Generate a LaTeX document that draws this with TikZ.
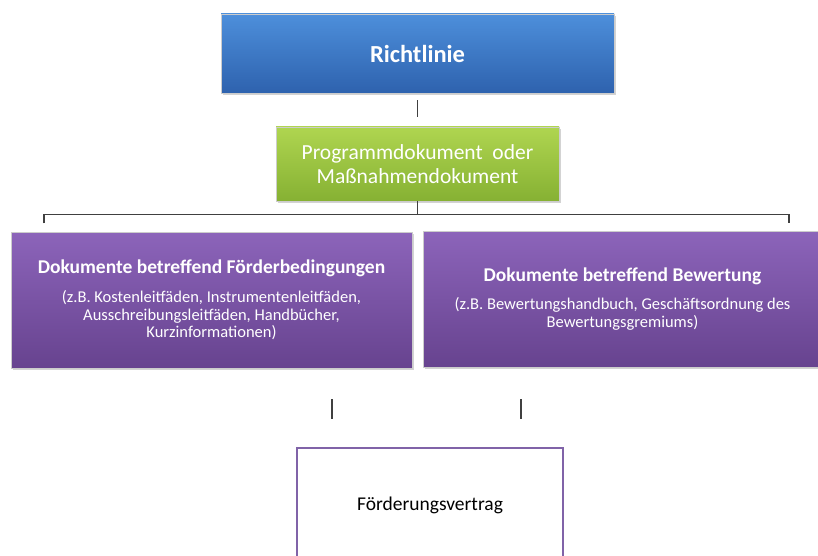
\documentclass[tikz,border=0pt]{standalone}
\usepackage{fontspec}
\setmainfont{Carlito}
\usetikzlibrary{calc,shadows}

\definecolor{linegray}{HTML}{404040}
\definecolor{rltop}{HTML}{4D8FDB}
\definecolor{rlbot}{HTML}{2E62AE}
\definecolor{pgtop}{HTML}{AFD550}
\definecolor{pgbot}{HTML}{86B133}
\definecolor{dktop}{HTML}{8C64BA}
\definecolor{dkbot}{HTML}{67438F}
\definecolor{vtframe}{HTML}{8063A8}

\begin{document}
\begin{tikzpicture}[x=1pt,y=-1pt,
    box/.style={rectangle, align=center, text=white, draw=white!80!black, line width=0.6pt,
      drop shadow={shadow xshift=1.5pt, shadow yshift=-2pt, opacity=0.35}},
    conn/.style={draw=linegray, line width=1.4pt}]
  \useasboundingbox (0,0) rectangle (818,556);
  \clip (0,0) rectangle (818,556);

  % Top level
  \node[box, top color=rltop, bottom color=rlbot, minimum width=393pt, minimum height=79pt,
    font=\fontsize{24.5}{28}\selectfont\bfseries] (rl) at (417.5,53.5) {Richtlinie};
  \node[box, top color=pgtop, bottom color=pgbot, minimum width=283pt, minimum height=74pt,
    font=\fontsize{21.5}{24}\selectfont] (pg) at (417.5,164) {Programmdokument\ \ oder\\Maßnahmendokument};

  % Second level
  \node[box, top color=dktop, bottom color=dkbot, minimum width=401pt, minimum height=136pt,
    font=\fontsize{16.5}{17.5}\selectfont] (fb) at (211.5,300)
    {{\fontsize{19.5}{17.5}\selectfont\bfseries Dokumente betreffend Förderbedingungen}\\[11.5pt]
     (z.B. Kostenleitfäden, Instrumentenleitfäden,\\Ausschreibungsleitfäden, Handbücher,\\Kurzinformationen)};
  \node[box, top color=dktop, bottom color=dkbot, minimum width=399pt, minimum height=136pt,
    font=\fontsize{16.5}{18}\selectfont] (bw) at (622.5,299)
    {{\fontsize{19.5}{18}\selectfont\bfseries Dokumente betreffend Bewertung}\\[10pt]
     (z.B. Bewertungshandbuch, Geschäftsordnung des\\Bewertungsgremiums)};

  % Contract
  \node[rectangle, draw=vtframe, line width=1.5pt, fill=white, minimum width=266pt, minimum height=114pt,
    font=\fontsize{19.5}{22}\selectfont] (fv) at (430,505) {Förderungsvertrag};

  % Connectors
  \draw[conn] ($(rl.south)+(0,7)$) -- ($(pg.north)+(0,-10)$);
  \draw[conn] (pg.south) -- ++(0,13) coordinate (br);
  \draw[conn] ($(br)+(-373.5,9)$) -- ++(0,-9) -- ($(br)+(371.5,0)$) -- ++(0,9);
  \draw[conn] ($(fv.north)+(-98,-48)$) -- ++(0,20);
  \draw[conn] ($(fv.north)+(91,-48)$) -- ++(0,20);
\end{tikzpicture}
\end{document}
